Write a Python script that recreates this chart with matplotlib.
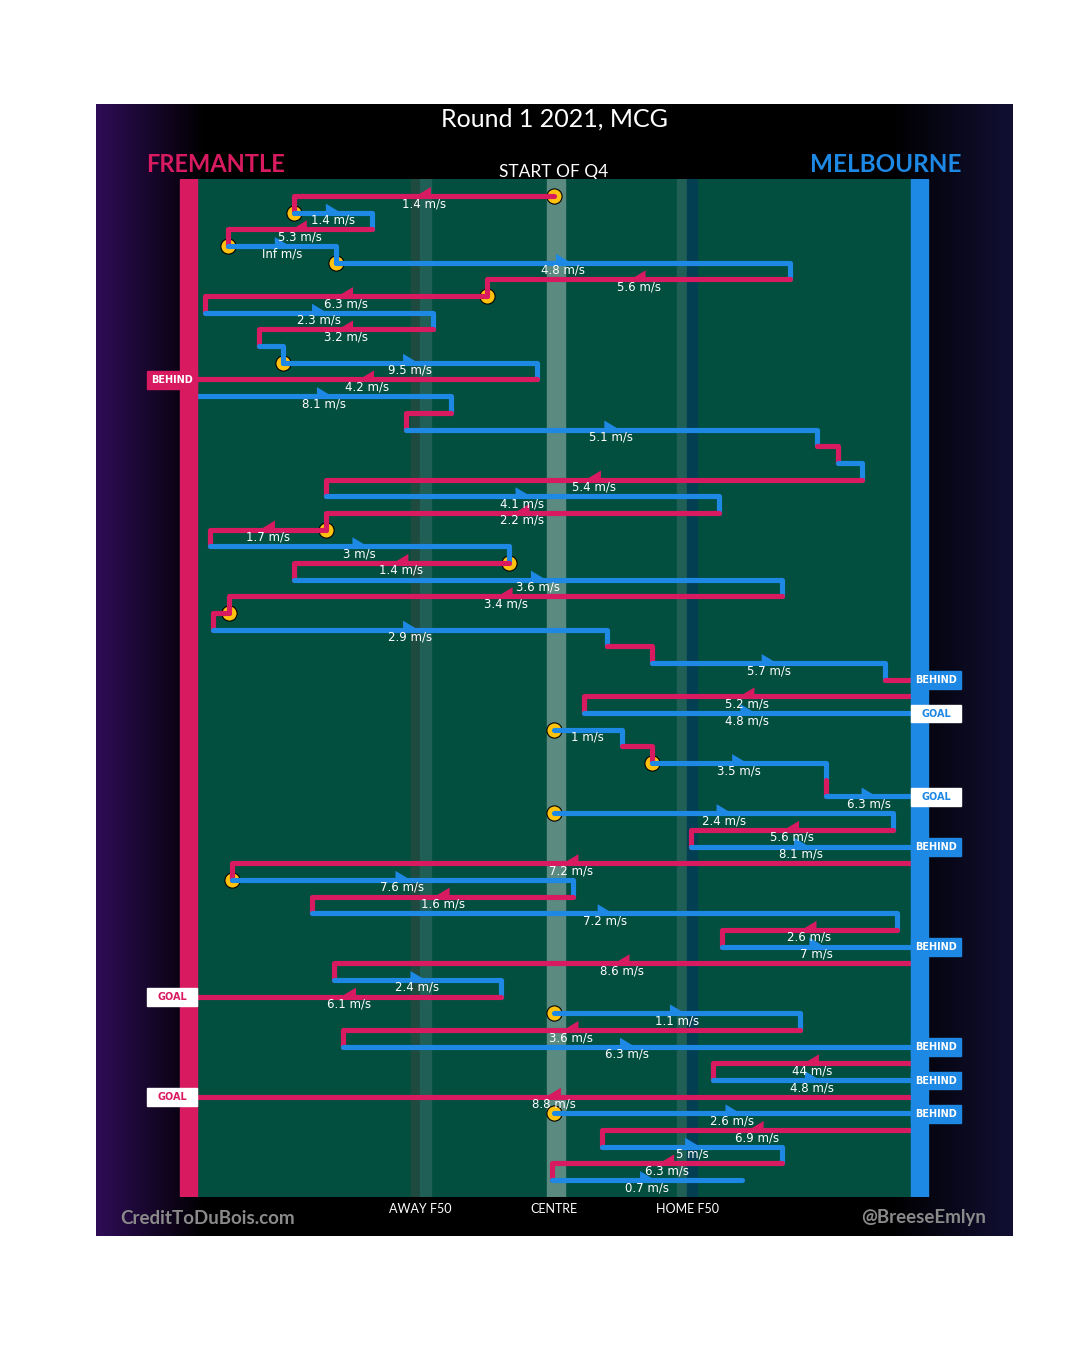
import matplotlib.pyplot as plt
import numpy as np
from matplotlib.patches import Rectangle, Polygon

# one row per possession segment, top to bottom
# x in metres from the centre square: -80 = Fremantle end (left), +80 = Melbourne end (right)
x_start = [0, -58.3, -40.8, -73.1, -48.9, 52.9, -15.0, -78.2, -27.1, -66.1,
           -60.7, -3.8, -80, -23.1, -33.2, 58.9, 63.6, 69.0, -51.1, 37.0,
           -51.1, -77.1, -10.1, -58.3, 51.1, -72.8, -76.4, 11.9, 22.0, 74.2,
           80, 6.7, 0, 15.2, 22.0, 61.0, 61.0, 0, 76.0, 30.7,
           80, -72.2, 4.3, -54.2, 76.9, 37.6, 80, -49.3, -11.9, 0,
           55.1, -47.3, 80, 35.6, 80, 0, 80, 10.8, 51.1, -0.4]
x_end = [-58.3, -40.8, -73.1, -48.9, 52.9, -15.0, -78.2, -27.1, -66.1, -60.7,
         -3.8, -80, -23.1, -33.2, 58.9, 63.6, 69.0, -51.1, 37.0, -51.1,
         -77.1, -10.1, -58.3, 51.1, -72.8, -76.4, 11.9, 22.0, 74.2, 80,
         6.7, 80, 15.2, 22.0, 61.0, 61.0, 80, 76.0, 30.7, 80,
         -72.2, 4.3, -54.2, 76.9, 37.6, 80, -49.3, -11.9, -80, 55.1,
         -47.3, 80, 35.6, 80, -80, 80, 10.8, 51.1, -0.4, 42.1]
team = ("FMFMMFFMFM" "MFMFMFMFMF" "FMFMFFMFMF"
        "FMMFMFMMFM" "FMFMFMFMFM" "FMFMFMFMFM")
speed = ["1.4", "1.4", "5.3", "Inf", "4.8", "5.6", "6.3", "2.3", "3.2", "",
         "9.5", "4.2", "8.1", "", "5.1", "", "", "5.4", "4.1", "2.2",
         "1.7", "3", "1.4", "3.6", "3.4", "", "2.9", "", "5.7", "",
         "5.2", "4.8", "1", "", "3.5", "", "6.3", "2.4", "5.6", "8.1",
         "7.2", "7.6", "1.6", "7.2", "2.6", "7", "8.6", "2.4", "6.1", "1.1",
         "3.6", "6.3", "44", "4.8", "8.8", "2.6", "6.9", "5", "6.3", "0.7"]
stoppage_rows = [0, 1, 3, 4, 6, 10, 20, 22, 25, 32, 34, 37, 41, 49, 55]
outcome_rows = [11, 29, 31, 36, 39, 45, 48, 51, 53, 54, 55]
outcome_kind = ["BEHIND", "BEHIND", "GOAL", "GOAL", "BEHIND", "BEHIND",
                "GOAL", "BEHIND", "BEHIND", "GOAL", "BEHIND"]
zone_x = [-30, 0, 30]
zone_names = ["AWAY F50", "CENTRE", "HOME F50"]

PINK = "#D81B60"
BLUE = "#1E88E5"
YELLOW = "#FFC20E"
FIELD = "#024F40"
col = {"F": PINK, "M": BLUE}

PX_M = 4.4625      # pixels per metre
ROW_PX = 16.68     # pixels per row

fig = plt.figure(figsize=(10.8, 13.55), dpi=100)

# dark panel behind everything (pixel coordinates)
bg = fig.add_axes([96 / 1080, 1 - 1236 / 1355, 917 / 1080, 1132 / 1355])
bg.set_xlim(96, 1013)
bg.set_ylim(1236, 104)
bg.axis("off")
xs = np.arange(96, 1014)
stops = [96, 205, 890, 1013]
grad = np.zeros((1, len(xs), 3))
for c, vals in enumerate([(0.18, 0, 0, 0.07), (0.05, 0, 0, 0.06), (0.34, 0, 0, 0.2)]):
    grad[0, :, c] = np.interp(xs, stops, vals)
bg.imshow(grad, extent=(96, 1013, 1236, 104), aspect="auto")

bg.text(554, 119, "Round 1 2021, MCG", color="white", fontsize=18,
        ha="center", va="center", family="Lato")
bg.text(215, 164, "FREMANTLE", color=PINK, fontsize=17, fontweight="bold",
        ha="center", va="center", family="Lato")
bg.text(886, 164, "MELBOURNE", color=BLUE, fontsize=17.5, fontweight="bold",
        ha="center", va="center", family="Lato")
bg.text(554, 172, "START OF Q4", color="white", fontsize=12.5,
        ha="center", va="center", family="Lato")
bg.text(208, 1218, "CreditToDuBois.com", color="#8a8a8a", fontsize=13.5,
        fontweight="bold", ha="center", va="center", family="Lato")
bg.text(924, 1218, "@BreeseEmlyn", color="#8a8a8a", fontsize=13.5,
        fontweight="bold", ha="center", va="center", family="Lato")

# field axes: x in metres, y in rows
ax = fig.add_axes([96 / 1080, 1 - 1197 / 1355, 917 / 1080, 1018 / 1355])
ax.set_xlim((96 - 554) / PX_M, (1013 - 554) / PX_M)
ytop, ybot = -17 / ROW_PX, 1001 / ROW_PX
ax.set_ylim(ybot, ytop)
ax.axis("off")
ax.patch.set_alpha(0)

ax.add_patch(Rectangle((-80, ytop), 160, ybot - ytop, color=FIELD, zorder=0))
ax.axvspan(-32.0, -30.0, color="#1E4A3F", zorder=0.5)
ax.axvspan(-30.0, -27.5, color="#1F5F55", zorder=0.5)
ax.axvspan(27.6, 29.8, color="#1F5F55", zorder=0.5)
ax.axvspan(29.8, 32.0, color="#033F52", zorder=0.5)
ax.axvspan(-1.6, 2.4, color="#5A8A80", zorder=0.5)

n = len(x_start)
lw = 3.7
for i in range(n):
    c = col[team[i]]
    x0, x1 = x_start[i], x_end[i]
    if i in outcome_rows or i == n - 1:
        xx, yy = [x0, x1], [i, i]
    else:
        xx, yy = [x0, x1, x1], [i, i, i + 1]
    ax.plot(xx, yy, color=c, lw=lw, solid_capstyle="round",
            solid_joinstyle="round", zorder=3)
    if speed[i]:
        mid = (x0 + x1) / 2
        ax.text(mid, i + 0.45, speed[i] + " m/s", color="white", fontsize=8.5,
                ha="center", va="center", zorder=4)
        if abs(x1 - x0) > 16:
            d = 1 if x1 > x0 else -1
            back = mid - d * 7 / PX_M
            tri = [(back, i - 9 / ROW_PX), (back, i + 2.5 / ROW_PX),
                   (mid + d * 8 / PX_M, i)]
            ax.add_patch(Polygon(tri, closed=True, color=c, lw=0, zorder=3.5))

ax.scatter([x_start[i] for i in stoppage_rows], stoppage_rows, s=120,
           color=YELLOW, edgecolor="black", linewidth=0.8, zorder=2)

# goal-end bars
ax.add_patch(Rectangle((-83.8, ytop), 3.8, ybot - ytop, color=PINK, zorder=5))
ax.add_patch(Rectangle((80, ytop), 3.8, ybot - ytop, color=BLUE, zorder=5))

for r, kind in zip(outcome_rows, outcome_kind):
    left = x_end[r] < 0
    side = PINK if left else BLUE
    face = side if kind == "BEHIND" else "white"
    txt = "white" if kind == "BEHIND" else side
    bx = -91.2 if left else 80
    ax.add_patch(Rectangle((bx, r - 0.5), 11.3, 1.05, color=face, zorder=6,
                           clip_on=False))
    ax.text(bx + 5.65, r + 0.03, kind, color=txt, fontsize=7, fontweight="bold",
            ha="center", va="center", zorder=7)

for zx, name in zip(zone_x, zone_names):
    ax.text(zx, ybot + 12 / ROW_PX, name, color="white", fontsize=9,
            ha="center", va="center", clip_on=False, family="Lato")

fig.savefig("out.png", dpi=100)
